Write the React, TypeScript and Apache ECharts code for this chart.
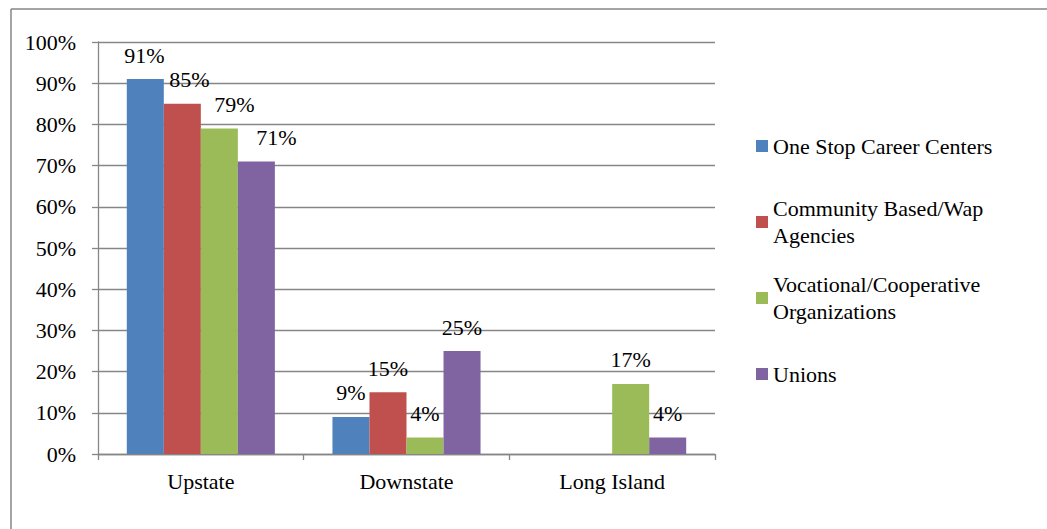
import React, { useEffect, useRef } from "react";
import * as echarts from "echarts";

const categories = ["Upstate", "Downstate", "Long Island"];
const seriesNames = [
  "One Stop Career Centers",
  "Community Based/Wap\nAgencies",
  "Vocational/Cooperative\nOrganizations",
  "Unions",
];
const oneStop = [91, 9, null];
const community = [85, 15, null];
const vocational = [79, 4, 17];
const unions = [71, 25, 4];
const yTicks = [0, 10, 20, 30, 40, 50, 60, 70, 80, 90, 100];

const colors = ["#4F81BD", "#C0504D", "#9BBB59", "#8064A2"];
// horizontal label shift for the Upstate group (as placed in the original)
const upstateLabelShift = [-1, 7, 15, 20];

const FONT = "Liberation Serif";
const FS = 22;
const GRAY = "#868686";

export default function App() {
  const ref = useRef<HTMLDivElement>(null);
  useEffect(() => {
    if (!ref.current) return;
    const chart = echarts.init(ref.current, undefined, { renderer: "svg" });
    const all = [oneStop, community, vocational, unions];
    const series = all.map((vals, si) => ({
      name: seriesNames[si],
      type: "bar",
      barGap: "0%",
      barCategoryGap: "28%",
      itemStyle: { color: colors[si] },
      label: {
        show: true,
        position: "top",
        distance: 13,
        formatter: "{c}%",
        color: "#000",
        fontFamily: FONT,
        fontSize: FS,
      },
      data: vals.map((v, ci) =>
        ci === 0 && v !== null
          ? { value: v, label: { offset: [upstateLabelShift[si], 0] } }
          : v
      ),
    }));
    const legendTops = [132.5, 181.5, 257.5, 360.5];
    const legend = seriesNames.map((n, i) => ({
      data: [n],
      orient: "vertical",
      left: 756,
      top: legendTops[i],
      padding: 0,
      itemWidth: 12,
      itemHeight: 12,
      icon: "rect",
      selectedMode: false,
      textStyle: {
        fontFamily: FONT,
        fontSize: FS,
        color: "#000",
        lineHeight: 27,
        padding: n.includes("\n") ? [27, 0, 0, 0] : 0,
      },
    }));
    chart.setOption({
      animation: false,
      backgroundColor: "#fff",
      grid: { left: 98, right: 332, top: 42, bottom: 75 },
      legend,
      xAxis: {
        type: "category",
        data: categories,
        axisLine: { lineStyle: { color: GRAY, width: 1.3 } },
        axisTick: { show: true, length: 6, lineStyle: { color: GRAY, width: 1.3 } },
        axisLabel: { fontFamily: FONT, fontSize: FS, color: "#000", margin: 16 },
      },
      yAxis: {
        type: "value",
        min: yTicks[0],
        max: yTicks[yTicks.length - 1],
        interval: yTicks[1] - yTicks[0],
        axisLine: { show: true, lineStyle: { color: GRAY, width: 1.3 } },
        axisTick: { show: true, length: 6, lineStyle: { color: GRAY, width: 1.3 } },
        splitLine: { lineStyle: { color: GRAY, width: 1.3 } },
        axisLabel: {
          fontFamily: FONT,
          fontSize: FS,
          color: "#000",
          margin: 22,
          formatter: "{value}%",
        },
      },
      graphic: [
        {
          type: "line",
          shape: { x1: 11, y1: 9, x2: 1047, y2: 9 },
          style: { stroke: GRAY, lineWidth: 1.5 },
        },
        {
          type: "line",
          shape: { x1: 11, y1: 9, x2: 11, y2: 529 },
          style: { stroke: GRAY, lineWidth: 1.5 },
        },
      ],
      series,
    });
    return () => chart.dispose();
  }, []);
  return (
    <div
      ref={ref}
      style={{ position: "absolute", left: 0, top: 0, width: 1047, height: 529 }}
    />
  );
}
